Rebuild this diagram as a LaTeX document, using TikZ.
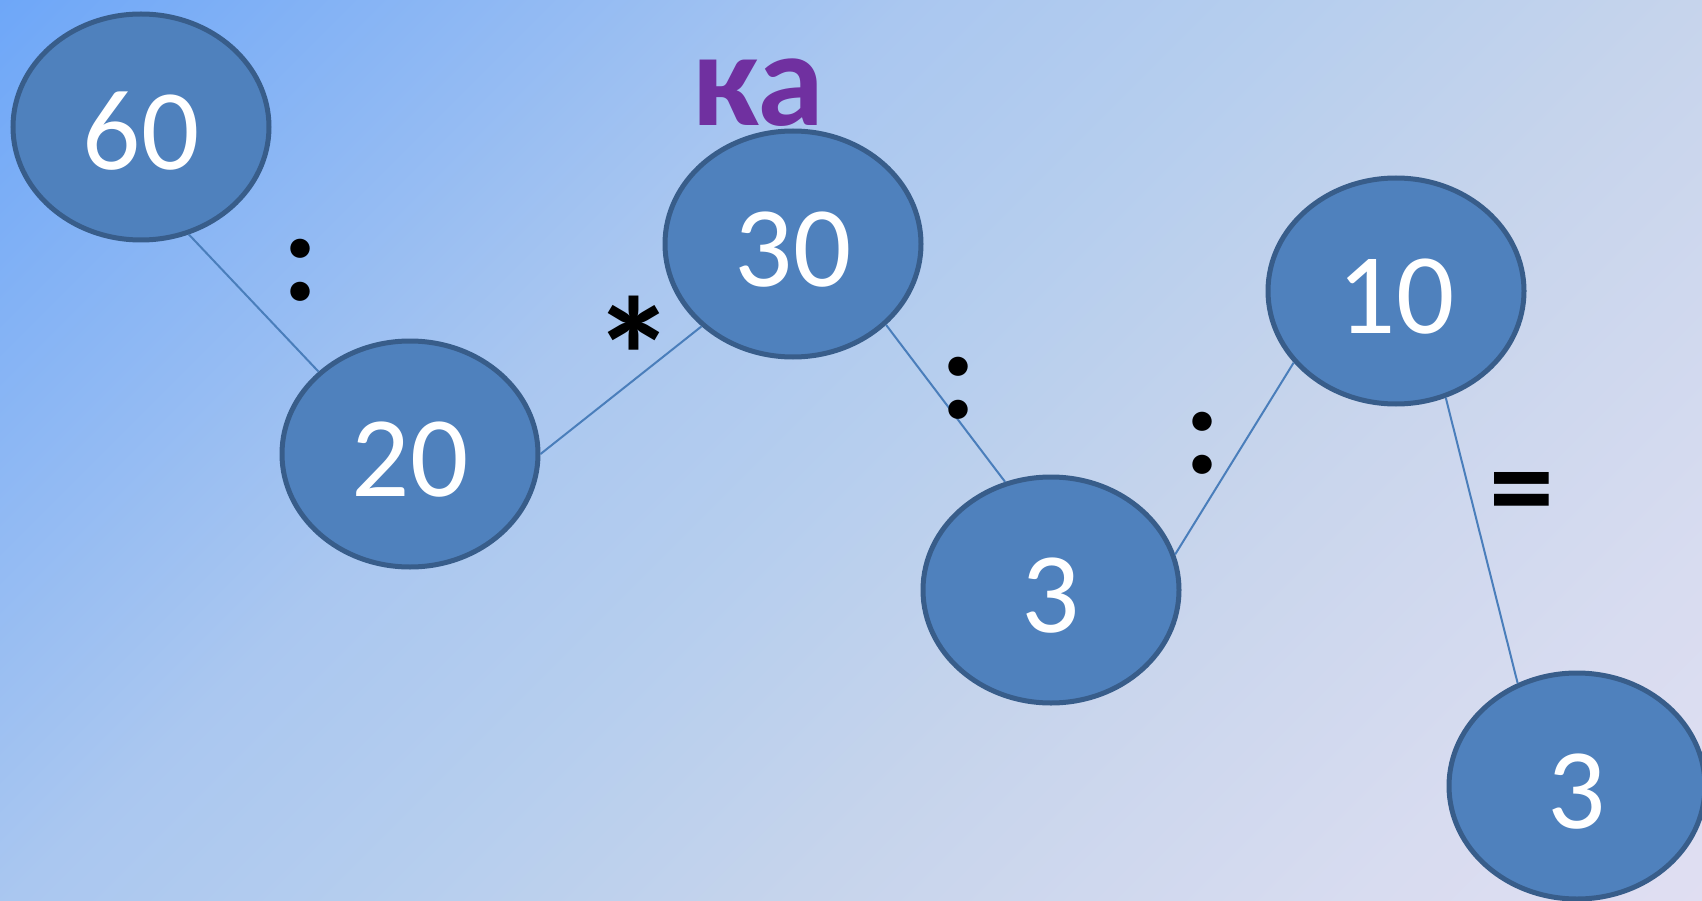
\documentclass[tikz,border=0pt]{standalone}
\usepackage{fontspec}
\setmainfont{Carlito}
\usetikzlibrary{shapes.geometric}
\definecolor{bga}{RGB}{110,167,248}
\definecolor{bgb}{RGB}{170,199,240}
\definecolor{bgc}{RGB}{182,206,238}
\definecolor{bgd}{RGB}{198,212,236}
\definecolor{bge}{RGB}{216,220,240}
\definecolor{bgf}{RGB}{224,222,242}
\definecolor{numfill}{RGB}{79,129,189}
\definecolor{numedge}{RGB}{56,93,138}
\definecolor{linkblue}{RGB}{74,126,187}
\definecolor{kapurple}{RGB}{112,48,160}
\pgfdeclarehorizontalshading{bgshade}{100bp}{color(0bp)=(bga); color(25bp)=(bga);
  color(42.5bp)=(bgb); color(50bp)=(bgc); color(57.5bp)=(bgd); color(68.5bp)=(bge);
  color(75bp)=(bgf); color(100bp)=(bgf)}
\tikzset{
  num/.style={ellipse, draw=numedge, fill=numfill, line width=5pt,
    minimum width=256pt, minimum height=226pt, inner sep=0pt,
    text=white, text height=85pt, text depth=0pt,
    font=\fontsize{115}{115}\selectfont},
  op/.style={anchor=base, font=\bfseries\fontsize{130}{130}\selectfont},
  link/.style={draw=linkblue, line width=2pt}
}
\begin{document}
\begin{tikzpicture}[x=1pt, y=-1pt]
        \useasboundingbox (0, 0) rectangle (1702, 901);
        \clip (0, 0) rectangle (1702, 901);
        \shade[shading=bgshade, transform canvas={rotate around={-45:(851, 451)}}]
            (-70, -470) rectangle (1772, 1372);

        \node[num] (n60) at (141, 127) {60};
        \node[num] (n20) at (410, 454) {20};
        \node[num] (n30) at (793, 244) {30};
        \node[num] (n3a) at (1051, 590) {3};
        \node[num] (n10) at (1396, 291) {10};
        \node[num] (n3b) at (1577, 786) {3};

        \node[anchor=base, text=kapurple, font=\bfseries\fontsize{135}{135}\selectfont] (ka) at (758, 126) {ка};

        \draw[link] (n60.-66) -- (n20.138);
        \draw[link] (n20.0) -- (n30.-138);
        \draw[link] (n30.-41) -- (n3a.113);
        \draw[link] (n3a.16) -- (n10.-145);
        \draw[link] (n10.-65) -- (n3b.120);

        \node[op] (div1) at (300, 301) {:};
        \node[op, font=\bfseries\fontsize{167}{167}\selectfont] (mul) at (634, 415) {*};
        \node[op] (div2) at (958, 418) {:};
        \node[op] (div3) at (1202, 473) {:};
        \node[op] (eq) at (1522, 530) {=};
    \end{tikzpicture}
\end{document}
